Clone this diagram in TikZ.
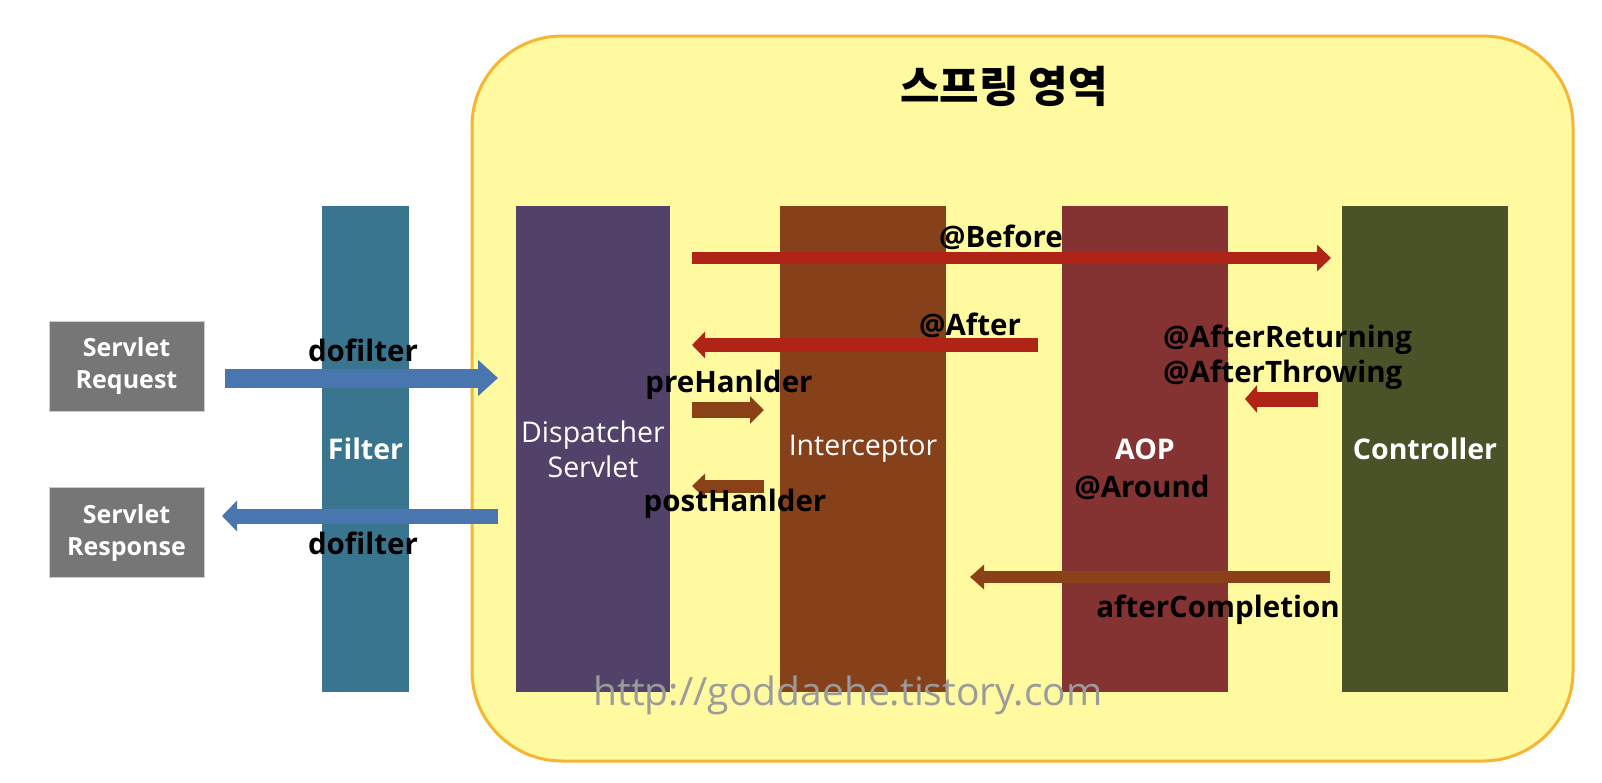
\documentclass[tikz,border=0pt]{standalone}
\usepackage{fontspec}
\setmainfont{Open Sans}
\newfontfamily\korfont{Noto Sans CJK KR}
\usetikzlibrary{arrows.meta}
\definecolor{springfill}{RGB}{255,249,160}
\definecolor{springline}{RGB}{246,182,52}
\definecolor{filtercol}{RGB}{58,117,143}
\definecolor{dispcol}{RGB}{82,65,105}
\definecolor{intercol}{RGB}{134,64,26}
\definecolor{aopcol}{RGB}{132,50,50}
\definecolor{ctrlcol}{RGB}{74,82,40}
\definecolor{servcol}{RGB}{118,118,118}
\definecolor{bluearr}{RGB}{74,118,176}
\definecolor{redarr}{RGB}{176,36,24}
\definecolor{brownarr}{RGB}{139,65,24}
\definecolor{markgray}{RGB}{155,155,155}
\begin{document}
\begin{tikzpicture}[x=1pt,y=-1pt,
    bar/.style={rectangle, minimum width=166pt, minimum height=486pt, inner sep=0pt,
      text=white, align=center, font=\fontsize{28.5}{35}\selectfont},
    boldbar/.style={bar, font=\bfseries\fontsize{28.5}{35}\selectfont},
    servbox/.style={rectangle, draw=gray!40, fill=servcol, minimum width=155pt,
      minimum height=90pt, text=white, align=center, font=\bfseries\fontsize{25}{32}\selectfont},
    lbl/.style={text=black, inner sep=0pt, font=\bfseries\fontsize{29.5}{35}\selectfont},
    flow/.style={line width=#1}]
    \useasboundingbox[fill=white] (0,0) rectangle (1602,782);
    % Spring area
    \draw[springline, line width=3pt, fill=springfill, rounded corners=90pt]
      (472,36) rectangle (1573,761);
    \node[font=\korfont\bfseries\fontsize{43}{50}\selectfont] (title) at (1004,86) {스프링 영역};
    % Servlet request / response
    \node[servbox] (req)  at (126.5,366)   {Servlet\\Request};
    \node[servbox] (resp) at (126.5,532.5) {Servlet\\Response};
    % Vertical bars
    \node[boldbar, fill=filtercol, minimum width=87pt] (filter) at (365.5,449) {Filter};
    \node[bar, fill=dispcol, minimum width=154pt] (disp) at (593,449) {Dispatcher\\Servlet};
    \node[bar, fill=intercol] (inter) at (863,449)  {Interceptor};
    \node[boldbar, fill=aopcol] (aop) at (1145,449) {AOP};
    \node[boldbar, fill=ctrlcol] (ctrl) at (1425,449) {Controller};
    % Arrow ends
    \coordinate (reqA)  at (225,378);   \coordinate (reqB)  at (498,378);
    \coordinate (respA) at (498,516);   \coordinate (respB) at (222,516);
    \coordinate (befA)  at (692,258);   \coordinate (befB)  at (1331,258);
    \coordinate (aftA)  at (1038,345);  \coordinate (aftB)  at (692,345);
    \coordinate (preA)  at (692,410);   \coordinate (preB)  at (764,410);
    \coordinate (postA) at (764,486);   \coordinate (postB) at (692,486);
    \coordinate (retA)  at (1318,399);  \coordinate (retB)  at (1245,399);
    \coordinate (cmpA)  at (1330,577);  \coordinate (cmpB)  at (970,577);
    % Filter arrows
    \draw[bluearr, flow=19pt, -{Triangle[width=35pt,length=20pt]}] (reqA) -- (reqB);
    \draw[bluearr, flow=15pt, -{Triangle[width=30pt,length=15pt]}] (respA) -- (respB);
    % AOP arrows
    \draw[redarr, flow=12pt, -{Triangle[width=26pt,length=14pt]}] (befA) -- (befB);
    \draw[redarr, flow=14pt, -{Triangle[width=26pt,length=13pt]}] (aftA) -- (aftB);
    \draw[redarr, flow=15pt, -{Triangle[width=27pt,length=12pt]}] (retA) -- (retB);
    % Interceptor arrows
    \draw[brownarr, flow=16pt, -{Triangle[width=27pt,length=14pt]}] (preA) -- (preB);
    \draw[brownarr, flow=13pt, -{Triangle[width=24pt,length=13pt]}] (postA) -- (postB);
    \draw[brownarr, flow=12pt, -{Triangle[width=24pt,length=14pt]}] (cmpA) -- (cmpB);
    % Labels
    \node[lbl] (df1)    at (363,350)  {dofilter};
    \node[lbl] (df2)    at (363,543)  {dofilter};
    \node[lbl] (before) at (1001,237) {@Before};
    \node[lbl] (after)  at (970,325)  {@After};
    \node[lbl] (pre)    at (729,385)  {preHanlder};
    \node[lbl] (post)   at (735,504)  {postHanlder};
    \node[lbl, align=left, anchor=west] (ret) at (1163,357) {@AfterReturning\\@AfterThrowing};
    \node[lbl] (around) at (1142,487) {@Around};
    \node[lbl] (cmp)    at (1218,610) {afterCompletion};
    % Watermark
    \node[text=markgray, font=\fontsize{39}{44}\selectfont] (mark) at (848,695)
      {http://goddaehe.tistory.com};
\end{tikzpicture}
\end{document}
